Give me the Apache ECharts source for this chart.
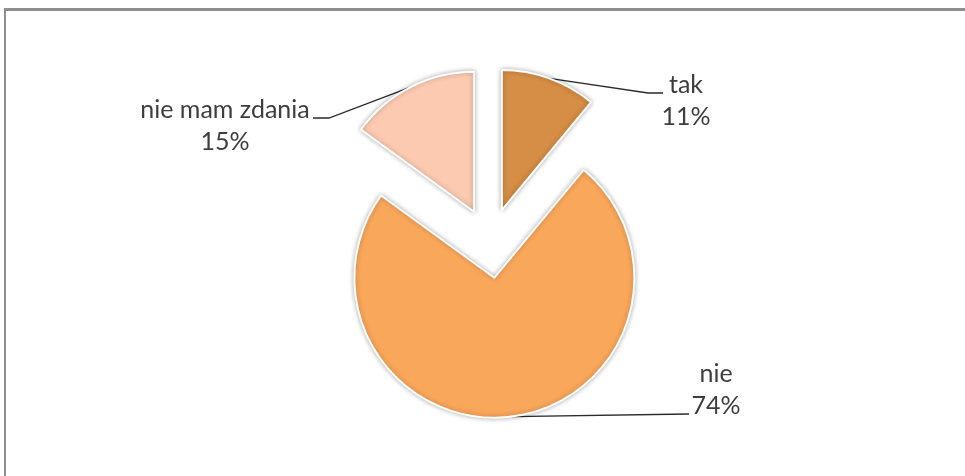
<!DOCTYPE html>
<html>
<head>
<meta charset="utf-8">
<script src="https://cdn.jsdelivr.net/npm/echarts@6/dist/echarts.min.js"></script>
<style>
  html, body { margin: 0; padding: 0; background: #fff; }
  #frame {
    position: absolute; left: 4px; top: 8px; width: 980px; height: 480px;
    border-top: 3px solid #8e8e8e; border-left: 2px solid #8e8e8e;
  }
  #main { position: absolute; left: 0; top: 0; width: 965px; height: 476px; }
</style>
</head>
<body>
<div id="frame"></div>
<div id="main"></div>
<script>
// answers
let categories = ['tak', 'nie', 'nie mam zdania'];
let values = [11, 74, 15];
let colors = ['#d68d45', '#f9a75b', '#fccab0'];

// where each label sits: [text x, text y, bend x, bend y, end x, end y]
let labelSpots = [
    [686, 101, 648, 93, 663, 93],
    [716, 390, 600, 414, 689, 414],
    [225, 126, 329, 118, 313, 118]
];

let pieCenter = [490, 243];
let pieRadius = 140;
let explode = 35;

let chart = echarts.init(document.getElementById('main'));

let pieData = [];
let labelData = [];
for (let i = 0; i < categories.length; i++) {
    pieData.push({
        name: categories[i],
        value: values[i],
        selected: true,
        itemStyle: { color: colors[i] }
    });
    labelData.push({ name: categories[i], value: values[i] });
}

chart.setOption({
    animation: false,
    series: [{
        // the slices, pulled out
        type: 'pie',
        center: pieCenter,
        radius: pieRadius,
        startAngle: 90,
        clockwise: true,
        selectedMode: 'multiple',
        selectedOffset: explode,
        data: pieData,
        itemStyle: {
            borderColor: '#ffffff',
            borderWidth: 2,
            shadowBlur: 5,
            shadowColor: 'rgba(0,0,0,0.3)'
        },
        label: { show: false },
        labelLine: { show: false },
        emphasis: { disabled: true }
    }, {
        // invisible ring at the pulled-out edge, only for labels
        type: 'pie',
        center: pieCenter,
        radius: pieRadius + explode,
        startAngle: 90,
        clockwise: true,
        silent: true,
        selectedMode: false,
        percentPrecision: 0,
        data: labelData,
        itemStyle: { color: 'rgba(0,0,0,0)', borderWidth: 0 },
        label: {
            show: true,
            formatter: '{b}\n{d}%',
            fontFamily: 'Lato',
            fontSize: 25,
            lineHeight: 32,
            color: '#3d3d3d',
            align: 'center'
        },
        labelLine: {
            show: true,
            lineStyle: { color: '#2b2b2b', width: 1.3 }
        },
        labelLayout: function (params) {
            let s = labelSpots[params.dataIndex];
            let start = params.labelLinePoints ? params.labelLinePoints[0] : [s[2], s[3]];
            let pts = params.dataIndex === 1
                ? [start, [s[4], s[5]]]
                : [start, [s[2], s[3]], [s[4], s[5]]];
            return {
                x: s[0],
                y: s[1],
                align: 'center',
                verticalAlign: 'middle',
                labelLinePoints: pts
            };
        },
        emphasis: { disabled: true }
    }]
});
</script>
</body>
</html>
